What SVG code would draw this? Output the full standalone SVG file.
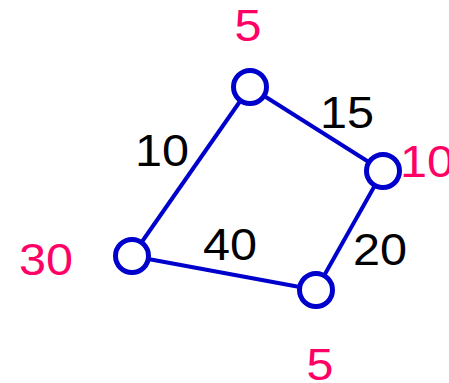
<svg xmlns="http://www.w3.org/2000/svg" width="449" height="383" viewBox="0 0 449 383">
<style>
.edge{stroke:#0000CC;stroke-width:4;fill:none}
.node{stroke:#0000CC;stroke-width:5;fill:#fff}
.nl{fill:#FF0066;font-family:"Liberation Sans",Arial,sans-serif;font-size:45px;text-anchor:middle}
.el{fill:#000;font-family:"Liberation Sans",Arial,sans-serif;font-size:45px;text-anchor:middle}
</style>
<rect width="449" height="383" fill="#fff"/>
<g id="edges">
<line class="edge" x1="250" y1="87" x2="383" y2="171"/>
<line class="edge" x1="250" y1="87" x2="132" y2="256"/>
<line class="edge" x1="132" y1="256" x2="316" y2="290"/>
<line class="edge" x1="316" y1="290" x2="383" y2="171"/>
<text class="el" transform="translate(162,166) scale(1.08,1)">10</text>
<text class="el" transform="translate(347,128) scale(1.08,1)">15</text>
<text class="el" transform="translate(230,260) scale(1.08,1)">40</text>
<text class="el" transform="translate(380,265) scale(1.08,1)">20</text>
</g>
<g id="n1"><circle class="node" cx="250" cy="87" r="16.5"/><text class="nl" transform="translate(248,41) scale(1.08,1)">5</text></g>
<g id="n2"><circle class="node" cx="383" cy="171" r="16.5"/><text class="nl" style="text-anchor:start" transform="translate(400,177) scale(1.08,1)">10</text></g>
<g id="n3"><circle class="node" cx="132" cy="256" r="16.5"/><text class="nl" transform="translate(46,275) scale(1.08,1)">30</text></g>
<g id="n4"><circle class="node" cx="316" cy="290" r="16.5"/><text class="nl" transform="translate(320,380) scale(1.08,1)">5</text></g>
</svg>
